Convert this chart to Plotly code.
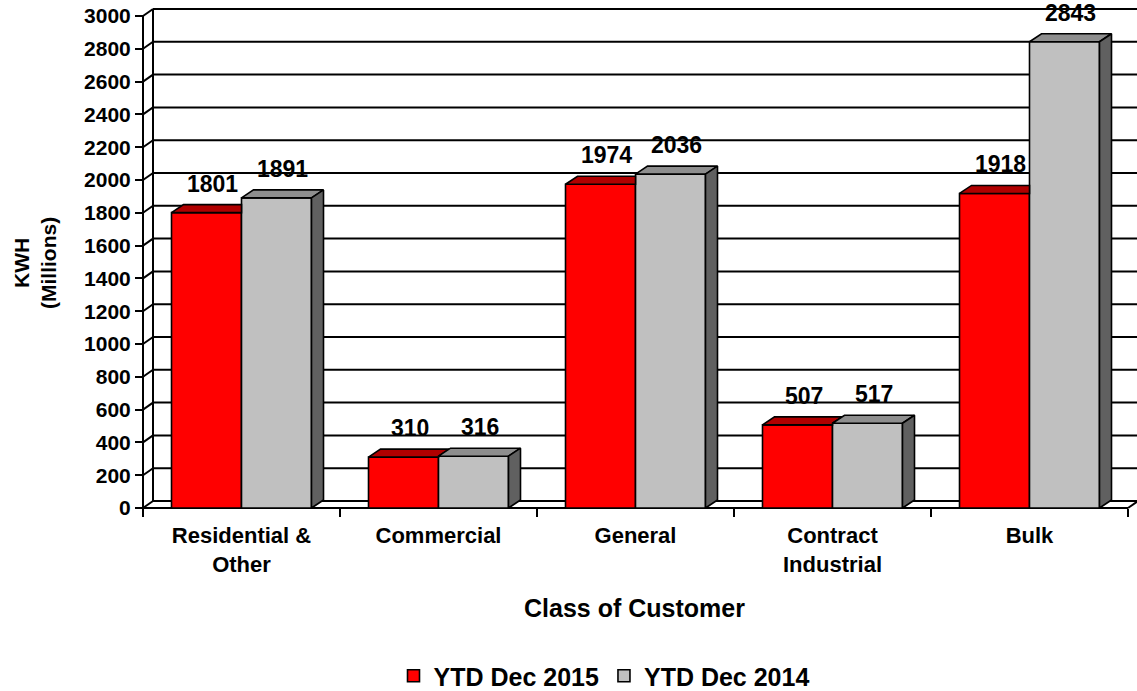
import plotly.graph_objects as go

# ---------------- data ----------------
categories = ["Residential &<br>Other", "Commercial", "General", "Contract<br>Industrial", "Bulk"]
ytd_2015 = [1801, 310, 1974, 507, 1918]
ytd_2014 = [1891, 316, 2036, 517, 2843]
series_names = ["YTD Dec 2015", "YTD Dec 2014"]
y_ticks = list(range(0, 3001, 200))
y_max = 3000

# ---------------- styling / geometry ----------------
W, H = 1137, 691
L, R, T, B = 140, 0, 8, 180
plot_w = W - L - R
plot_h = H - T - B
cat_px = 197.0          # pixels per category
val_px = 492.0 / 3000   # pixels per unit
x0r = -0.5 - 3 / cat_px
x1r = x0r + plot_w / cat_px
y0r = -3 / val_px
y1r = y0r + plot_h / val_px

wall_dx, wall_dy = 10 / cat_px, 7 / val_px   # back wall offset
bar_dx, bar_dy = 12 / cat_px, 8 / val_px     # bar depth
bw = 70 / cat_px                            # single bar width

RED, RED_TOP, RED_SIDE = "#FF0000", "#B00000", "#800000"
GRAY, GRAY_TOP, GRAY_SIDE = "#C0C0C0", "#8E8E8E", "#606060"
FONT = "Liberation Sans, Arial, sans-serif"
LW = 1.6

fig = go.Figure()
idx = list(range(len(categories)))

fig.add_trace(go.Bar(x=idx, y=ytd_2015, name=series_names[0], marker=dict(color=RED, line=dict(color="black", width=LW)), hoverinfo="skip"))
fig.add_trace(go.Bar(x=idx, y=ytd_2014, name=series_names[1], marker=dict(color=GRAY, line=dict(color="black", width=LW)), hoverinfo="skip"))


def poly(xs, ys, color):
    fig.add_trace(go.Scatter(x=xs + [xs[0]], y=ys + [ys[0]], mode="lines", fill="toself",
                             fillcolor=color, line=dict(color="black", width=LW),
                             hoverinfo="skip", showlegend=False))


for i, (vr, vg) in enumerate(zip(ytd_2015, ytd_2014)):
    xa, xb, xc = i - bw, i, i + bw
    # red top, clipped where the gray box hides it
    h = min(max(vg - vr, 0), bar_dy)
    poly([xa, xa + bar_dx, xb + bar_dx * (1 - h / bar_dy), xb, xb],
         [vr, vr + bar_dy, vr + bar_dy, vr + h, vr], RED_TOP)
    if vr > vg:
        poly([xb, xb, xb + bar_dx, xb + bar_dx], [vg, vr, vr + bar_dy, vg + bar_dy], RED_SIDE)
    # gray top and side
    poly([xb, xb + bar_dx, xc + bar_dx, xc], [vg, vg + bar_dy, vg + bar_dy, vg], GRAY_TOP)
    poly([xc, xc + bar_dx, xc + bar_dx, xc], [0, bar_dy, vg + bar_dy, vg], GRAY_SIDE)

# ---------------- walls / gridlines ----------------
shapes = []
line = dict(color="black", width=2)
for v in y_ticks:
    shapes.append(dict(type="line", xref="x", yref="y", layer="below", x0=-0.5 + wall_dx, x1=x1r + 1,
                       y0=v + wall_dy, y1=v + wall_dy, line=line))
    shapes.append(dict(type="line", xref="x", yref="y", layer="below", x0=-0.5, x1=-0.5 + wall_dx,
                       y0=v, y1=v + wall_dy, line=line))
shapes.append(dict(type="line", xref="x", yref="y", layer="below", x0=-0.5 + wall_dx, x1=-0.5 + wall_dx,
                   y0=wall_dy, y1=y_max + wall_dy, line=line))
shapes.append(dict(type="line", xref="x", yref="y", layer="below", x0=-0.5, x1=-0.5,
                   y0=0, y1=y_max, line=line))
shapes.append(dict(type="line", xref="x", yref="y", layer="below", x0=-0.5, x1=len(categories) - 0.5,
                   y0=0, y1=0, line=line))
shapes.append(dict(type="line", xref="x", yref="y", layer="below", x0=len(categories) - 0.5,
                   x1=len(categories) - 0.5 + wall_dx, y0=0, y1=wall_dy, line=line))

# ---------------- labels ----------------
annotations = []
for i, (vr, vg) in enumerate(zip(ytd_2015, ytd_2014)):
    for xc, v in ((i - bw / 2, vr), (i + bw / 2, vg)):
        annotations.append(dict(x=xc, y=v, xref="x", yref="y", text=str(v), showarrow=False,
                                xshift=6, yshift=29, yanchor="middle",
                                font=dict(family=FONT, size=23, color="black", weight="bold")))

annotations.append(dict(xref="paper", yref="paper", x=(35 - L) / plot_w, y=(H - B - 263) / plot_h,
                        text="KWH<br>(Millions)", textangle=-90, showarrow=False,
                        xanchor="center", yanchor="middle",
                        font=dict(family=FONT, size=21, color="black", weight="bold")))
annotations.append(dict(xref="paper", yref="paper", x=(634 - L) / plot_w, y=-(608 - (H - B)) / plot_h,
                        text="Class of Customer", showarrow=False, xanchor="center", yanchor="middle",
                        font=dict(family=FONT, size=25, color="black", weight="bold")))

fig.update_layout(
    width=W, height=H,
    margin=dict(l=L, r=R, t=T, b=B, pad=0, autoexpand=False),
    paper_bgcolor="white", plot_bgcolor="white",
    barmode="group", bargap=1 - 2 * bw, bargroupgap=0,
    shapes=shapes, annotations=annotations,
    xaxis=dict(range=[x0r, x1r], anchor="free", position=3 / plot_h,
               tickmode="array", tickvals=idx, ticktext=categories, ticks="",
               ticklabelstandoff=12, automargin=False,
               tickfont=dict(family=FONT, size=22, color="black", weight="bold"),
               showgrid=False, zeroline=False, showline=False,
               minor=dict(tickmode="array", tickvals=[k - 0.5 for k in range(len(categories) + 1)],
                          ticks="outside", ticklen=8, tickwidth=2, tickcolor="black", showgrid=False)),
    yaxis=dict(range=[y0r, y1r], anchor="free", position=3 / plot_w, automargin=False,
               tickmode="array", tickvals=y_ticks, ticks="outside", ticklen=8, tickwidth=2,
               tickcolor="black",
               tickfont=dict(family=FONT, size=21, color="black", weight="bold"),
               showgrid=False, zeroline=False, showline=False),
    legend=dict(orientation="h", x=(604 - L) / plot_w, xanchor="center",
                y=-(676 - (H - B)) / plot_h, yanchor="middle",
                font=dict(family=FONT, size=25, color="black", weight="bold"),
                itemclick=False, itemdoubleclick=False, tracegroupgap=0),
    showlegend=True,
)

fig.write_html("out.html", config={"displayModeBar": False},
               post_script="document.body.style.margin='0';document.body.style.overflow='hidden';")
